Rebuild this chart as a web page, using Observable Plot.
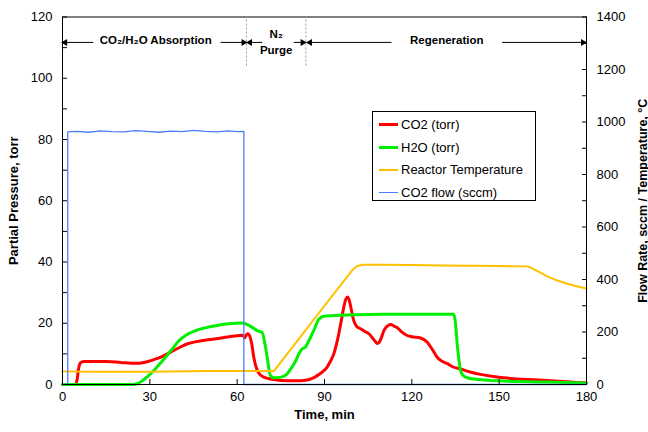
<!DOCTYPE html>
<html><head><meta charset="utf-8">
<script src="https://cdn.jsdelivr.net/npm/d3@7"></script>
<script src="https://cdn.jsdelivr.net/npm/@observablehq/plot@0.6"></script>
<style>
html,body{margin:0;padding:0;background:#fff;}
#chart{position:relative;width:648px;height:432px;font-family:"Liberation Sans",Arial,sans-serif;}
#legend{position:absolute;left:372px;top:111px;width:164px;height:90px;border:1px solid #000;background:#fff;box-sizing:border-box;}
.item{position:absolute;left:6px;height:20px;display:flex;align-items:center;font-size:13px;color:#000;white-space:nowrap;}
.sw{width:19px;margin-right:3px;}
</style></head><body><div id="chart"></div>
<script>
// ---- Data ----
const co2Time = [0,4.5,5,5.5,6.2,7.5,10,15,20,25,28,31,34,37,40,43,46,50,55,60,62,62.5,63.5,64,65,65.7,66.9,68,69.2,72,75,80,84,86,87.5,89,90.9,92,93.2,94.2,94.9,95.8,96.6,97.4,97.9,98.5,99.2,100,101,102.4,104,105.2,106.5,107.5,108.1,108.8,109.6,110.4,111.5,112.7,114,115,116.5,118.4,120,123,125.3,127,128.7,130,132.2,134,136.7,140,143.6,148,155,160,166.5,172,178,180];
const co2Torr = [0,0,1.5,5,7.1,7.5,7.5,7.5,7.2,6.9,7.2,8.0,9.0,10.5,12.0,13.3,14.0,14.6,15.3,15.9,16.1,15.2,16.6,16.4,13.3,8.9,4.6,3.1,2.4,1.7,1.3,1.2,1.5,2.1,2.9,3.9,5.7,7.5,10,13.5,16.5,21,25.2,28.0,28.6,27.5,24.5,21.0,19.0,18.2,17.2,16.6,15.2,14.0,13.4,13.8,15.5,17.6,19.0,19.6,19.0,18.5,17.2,16.0,15.6,15.2,13.8,11.5,8.9,7.8,6.8,5.8,5.1,4.1,3.3,2.6,1.9,1.6,1.3,1.0,0.6,0.5];

const h2oTime = [0,24,26,27.4,29,30.8,33,35.4,38,40,42.5,45.7,49,52.6,57,61.2,62.3,64.6,66.9,68.6,69.5,70.3,71.4,72.6,75.5,77,78.4,80,81.2,82.2,83.5,85,86.3,88.1,89.8,95,100.7,110,120,130,134.4,135,135.6,136.2,136.7,137.5,139,143,149.3,160,170,178,180];
const h2oTorr = [0,0,0.4,1.2,2.4,4.0,6.3,8.9,12.0,14.3,16.2,17.6,18.5,19.2,19.8,20.1,20.0,19.0,17.6,17.0,13.5,8.9,3.0,2.2,2.5,3.3,5.1,7.5,10,11.5,12.3,15,17.6,21.4,22.3,22.6,22.8,22.9,22.9,22.9,22.9,20,13,8,4.7,3,2.2,1.6,1.2,0.9,0.7,0.5,0.4];

const tempTime = [0,10,30,50,72.6,75,80,90,99.5,101,103,110,120,130,140,150,159.7,161,163.5,166.5,170,173.4,177,180];
const tempC    = [50,49,49,51,51,85,157,300,435,450,456,456,455,453,452,451,450,444,430,412,396,384,373,366];

const flowTime = [0,1.8,1.8,5,9,13,17,21,25,29,33,37,41,45,49,53,57,60,62.3,62.3,180];
const flowSccm = [0,0,962,964,961,966,963,962,967,964,961,965,963,968,964,962,966,963,964,0,0];

const seriesNames  = ["CO2 (torr)","H2O (torr)","Reactor Temperature","CO2 flow (sccm)"];
const seriesColors = ["#ff0000","#00f000","#ffc000","#4a7dff"];

const xTicks = [0,30,60,90,120,150,180];
const leftTicks = [0,20,40,60,80,100,120];
const leftMinor = [0,10,20,30,40,50,60,70,80,90,100,110,120];
const rightTicks = [0,200,400,600,800,1000,1200,1400];
const rightMinor = [0,100,200,300,400,500,600,700,800,900,1000,1100,1200,1300,1400];

const phaseBounds = [63.2, 83.6];
const phaseLabels = ["CO\u2082/H\u2082O Absorption","N\u2082","Purge","Regeneration"];
const phaseLabelX = [32, 73.4, 73.4, 132];
const phaseLabelY = [112.3, 114.3, 109.1, 112.3];
const arrowFrom = [10.6, 54.3, 68.6, 79.4, 113, 151];
const arrowTo   = [0.9, 62.2, 64.4, 82.5, 85.0, 178.8];

// ---- Build tables ----
const R = 120/1400; // right-axis units -> left-axis units
const co2 = co2Time.map((t,i)=>({t, v: co2Torr[i]}));
const h2o = h2oTime.map((t,i)=>({t, v: h2oTorr[i]}));
const temp = tempTime.map((t,i)=>({t, v: tempC[i]*R}));
const flow = flowTime.map((t,i)=>({t, v: flowSccm[i]*R}));
const labels = phaseLabels.map((s,i)=>({s, x: phaseLabelX[i], y: phaseLabelY[i]}));
const arrows = arrowFrom.map((a,i)=>({x1:a, x2:arrowTo[i], y:111.7, dir: arrowTo[i] > a ? 90 : -90}));

const plot = Plot.plot({
  width: 648, height: 432,
  marginLeft: 62, marginRight: 62, marginTop: 16.5, marginBottom: 48,
  x: {domain: [0,180]},
  y: {domain: [0,120]},
  style: {fontFamily: '"Liberation Sans", Arial, sans-serif', fontSize: "13px", color: "#000", background: "#fff"},
  marks: [
    Plot.line(co2, {x:"t", y:"v", stroke: seriesColors[0], strokeWidth: 3, curve: "monotone-x", strokeLinejoin:"round"}),
    Plot.line(h2o, {x:"t", y:"v", stroke: seriesColors[1], strokeWidth: 3, curve: "monotone-x", strokeLinejoin:"round"}),
    Plot.line(temp, {x:"t", y:"v", stroke: seriesColors[2], strokeWidth: 2}),
    Plot.line(flow, {x:"t", y:"v", stroke: seriesColors[3], strokeWidth: 1.3}),
    Plot.frame({stroke: "#000", strokeWidth: 1}),
    Plot.axisY({anchor: "left", ticks: leftMinor, tickSize: -5, fill: "none"}),
    Plot.axisY({anchor: "left", ticks: leftTicks, tickSize: 0, tickPadding: 10, label: null}),
    Plot.axisY({anchor: "right", ticks: rightMinor.map(d=>d*R), tickSize: -5, fill: "none"}),
    Plot.axisY({anchor: "right", ticks: rightTicks.map(d=>d*R), tickFormat: d => String(Math.round(d/R)), tickSize: 0, tickPadding: 10, label: null}),
    Plot.axisX({anchor: "bottom", ticks: xTicks, tickSize: -5, fill: "none"}),
    Plot.axisX({anchor: "bottom", ticks: xTicks, tickSize: 0, tickPadding: 7, label: null}),
    Plot.text(["Partial Pressure, torr"], {frameAnchor: "left", dx: -49, rotate: -90, textAnchor: "middle", lineAnchor: "middle", fontWeight: "bold", fontSize: 13}),
    Plot.text(["Flow Rate, sccm / Temperature, \u00B0C"], {frameAnchor: "right", dx: 56, rotate: -90, textAnchor: "middle", lineAnchor: "middle", fontWeight: "bold", fontSize: 12.5}),
    Plot.text(["Time, min"], {frameAnchor: "bottom", dy: 30, lineAnchor: "middle", textAnchor: "middle", fontWeight: "bold", fontSize: 13}),
    Plot.ruleX(phaseBounds, {y1: 104, y2: 120, stroke: "#999", strokeDasharray: "2,2", strokeWidth: 1}),
    Plot.link(arrows, {x1: "x1", x2: "x2", y1: "y", y2: "y", stroke: "#000", strokeWidth: 1}),
    Plot.dot(arrows, {x: "x2", y: "y", symbol: "triangle", r: 2.6, fill: "#000", stroke: "none", rotate: "dir"}),
    Plot.text(labels, {x: "x", y: "y", text: "s", fontWeight: "bold", fontSize: 11.5})
  ]
});
const chart = document.getElementById("chart");
chart.appendChild(plot);

// legend
const leg = document.createElement("div");
leg.id = "legend";
const centers = [12.3, 35.3, 57.8, 80.0];
const widths = [3, 3, 2, 1.5];
seriesNames.forEach((name,i)=>{
  const it = document.createElement("div");
  it.className = "item";
  it.style.top = (centers[i]-10) + "px";
  const sw = document.createElement("div");
  sw.className = "sw";
  sw.style.borderTop = widths[i] + "px solid " + seriesColors[i];
  it.appendChild(sw);
  const tx = document.createElement("span");
  tx.textContent = name;
  it.appendChild(tx);
  leg.appendChild(it);
});
chart.appendChild(leg);
</script></body></html>
